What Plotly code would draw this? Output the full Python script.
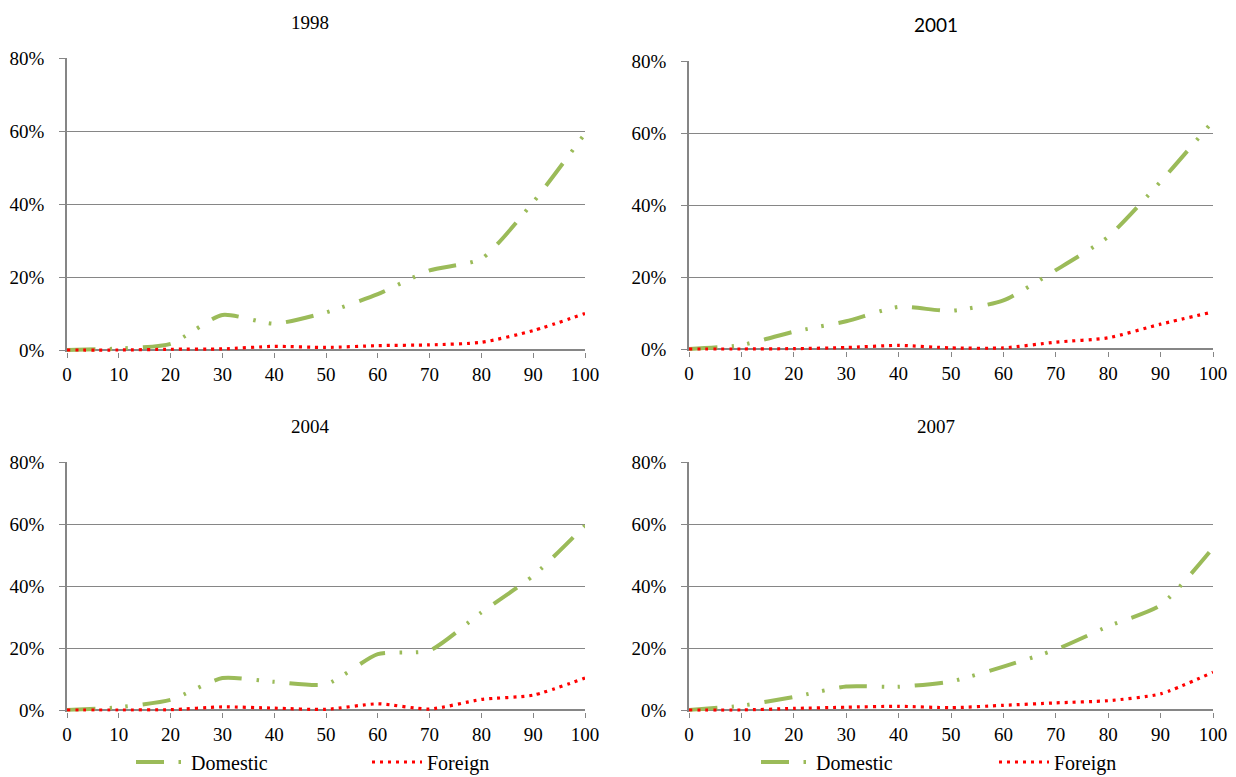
import plotly.graph_objects as go

# ---------------- data (percent) ----------------
pct = [0, 10, 20, 30, 40, 50, 60, 70, 80, 90, 100]
years = ["1998", "2001", "2004", "2007"]
dom_1998 = [0.0, 0.4, 1.7, 9.6, 7.2, 10.3, 15.3, 21.8, 25.0, 40.5, 59.3]
for_1998 = [0.0, 0.0, 0.2, 0.3, 1.0, 0.7, 1.2, 1.4, 2.1, 5.3, 10.0]
dom_2001 = [0.0, 1.1, 4.8, 7.7, 11.7, 10.6, 13.5, 21.9, 31.2, 46.5, 63.3]
for_2001 = [0.0, 0.0, 0.1, 0.4, 1.0, 0.3, 0.3, 1.9, 3.1, 6.9, 10.3]
dom_2004 = [0.0, 0.9, 3.3, 10.3, 9.1, 8.3, 18.0, 19.2, 31.5, 43.3, 59.5]
for_2004 = [0.0, 0.0, 0.1, 1.0, 0.6, 0.2, 2.0, 0.3, 3.4, 4.8, 10.3]
dom_2007 = [0.0, 1.4, 4.2, 7.6, 7.5, 9.2, 14.0, 19.5, 27.0, 33.8, 52.3]
for_2007 = [0.0, 0.0, 0.5, 0.9, 1.2, 0.75, 1.5, 2.3, 3.0, 5.2, 12.2]
domestic = [dom_1998, dom_2001, dom_2004, dom_2007]
foreign = [for_1998, for_2001, for_2004, for_2007]
x_ticks = [0, 10, 20, 30, 40, 50, 60, 70, 80, 90, 100]
y_ticks = [0, 20, 40, 60, 80]
y_labels = ["0%", "20%", "40%", "60%", "80%"]

# ---------------- styling ----------------
OFF = 8                      # page body margin in the browser
W, H = 1236 - OFF, 777 - OFF
GREEN = "#9BBB59"
RED = "#FF0000"
GRAY = "#868686"
SERIF = "Liberation Serif"
SANS = "Lato"
YMIN = -0.6


def fx(px):
    return (px - OFF) / W


def fy(py):
    return (H - (py - OFF)) / H


panels = [
    dict(x0=67, x1=585, y0=350, y1=58, tx=310, ty=22, tfont=SERIF, legends=None),
    dict(x0=689, x1=1213, y0=349, y1=61, tx=936, ty=25, tfont=SANS, legends=None),
    dict(x0=67, x1=585, y0=710, y1=462, tx=310, ty=427, tfont=SERIF, legends=("legend", "legend2")),
    dict(x0=689, x1=1213, y0=710, y1=462, tx=936, ty=427, tfont=SERIF, legends=("legend3", "legend4")),
]

fig = go.Figure()
layout = dict(width=W, height=H, autosize=False,
              margin=dict(l=0, r=0, t=0, b=0, pad=0, autoexpand=False),
              paper_bgcolor="white", plot_bgcolor="white", annotations=[])

dom_dash = "28px,14.5px,2.5px,13.5px,2.5px,15px"
for_dash = "3px,5px"

for i, p in enumerate(panels):
    n = "" if i == 0 else str(i + 1)
    xa, ya = "x" + n, "y" + n
    scale = (p["y0"] - p["y1"]) / 80.0
    bottom_px = p["y0"] + (0 - YMIN) * scale
    layout["xaxis" + n] = dict(
        domain=[fx(p["x0"]), fx(p["x1"])], anchor=ya, range=[0, 100],
        tickmode="array", tickvals=x_ticks, ticks="outside", ticklen=5, tickwidth=1.3,
        tickcolor=GRAY, showline=False, showgrid=False, zeroline=False, automargin=False,
        tickfont=dict(family=SERIF, size=19, color="black"), fixedrange=True)
    layout["yaxis" + n] = dict(
        domain=[fy(bottom_px), fy(p["y1"])], anchor=xa, range=[YMIN, 80],
        tickmode="array", tickvals=y_ticks, ticktext=y_labels, ticks="outside", ticklen=6,
        tickwidth=1.3, tickcolor=GRAY, showline=True, linecolor=GRAY, linewidth=1.5,
        showgrid=True, gridcolor=GRAY, gridwidth=1.3, automargin=False,
        zeroline=True, zerolinecolor=GRAY, zerolinewidth=1.5, ticklabelstandoff=11,
        tickfont=dict(family=SERIF, size=19, color="black"), fixedrange=True)
    leg = p["legends"]
    fig.add_trace(go.Scatter(
        x=pct, y=domestic[i], xaxis=xa, yaxis=ya, mode="lines", name="Domestic",
        line=dict(color=GREEN, width=4, dash=dom_dash, shape="spline", smoothing=0.6),
        showlegend=leg is not None, legend=leg[0] if leg else "legend", hoverinfo="skip"))
    fig.add_trace(go.Scatter(
        x=pct, y=foreign[i], xaxis=xa, yaxis=ya, mode="lines", name="Foreign",
        line=dict(color=RED, width=3.2, dash=for_dash, shape="spline", smoothing=0.6),
        showlegend=leg is not None, legend=leg[1] if leg else "legend", hoverinfo="skip"))
    layout["annotations"].append(dict(
        text=years[i], xref="paper", yref="paper", x=fx(p["tx"]), y=fy(p["ty"]),
        xanchor="center", yanchor="middle", showarrow=False,
        font=dict(family=p["tfont"], size=19, color="black")))

# legend text starts (reference pixels); the item text sits 61px right of the legend box
legend_text_x = {"legend": 192, "legend2": 428, "legend3": 817, "legend4": 1055}
for name, tx in legend_text_x.items():
    layout[name] = dict(x=fx(tx - 61), y=fy(762), xanchor="left", yanchor="middle",
                        orientation="h", itemwidth=50, bgcolor="rgba(0,0,0,0)",
                        borderwidth=0, font=dict(family=SERIF, size=20, color="black"),
                        itemclick=False, itemdoubleclick=False)

fig.update_layout(**layout)
fig.write_html("out.html")
